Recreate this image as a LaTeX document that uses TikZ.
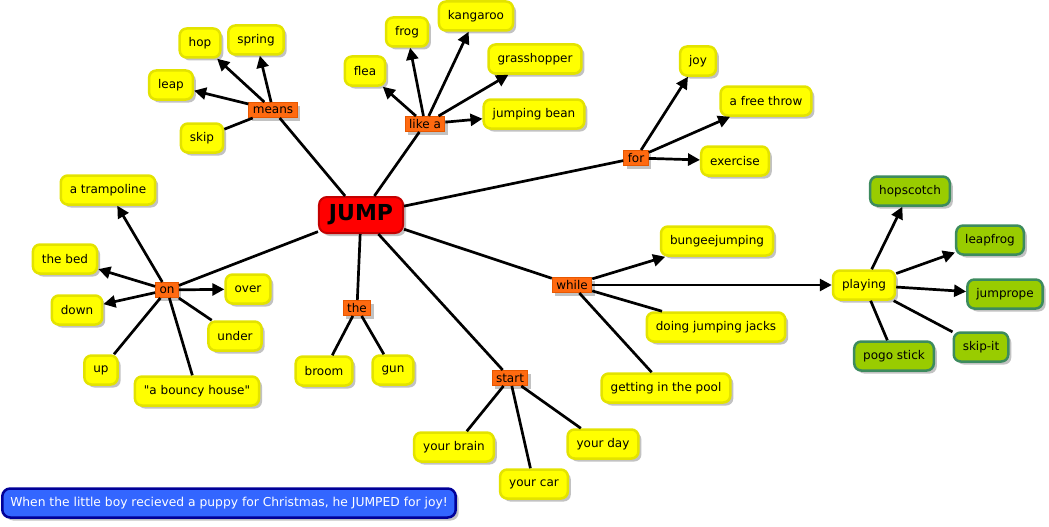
\documentclass[tikz,border=0pt]{standalone}
\usepackage{fontspec}
\setmainfont{DejaVu Sans}[Ligatures=TeXOff]
\usetikzlibrary{arrows.meta,shadows}

\definecolor{conceptfill}{HTML}{FFFF00}
\definecolor{conceptedge}{HTML}{E3E300}
\definecolor{linkfill}{HTML}{FF6A10}
\definecolor{linkedge}{HTML}{E85800}
\definecolor{gamefill}{HTML}{99CC00}
\definecolor{gameedge}{HTML}{3D8B5E}
\definecolor{rootfill}{HTML}{FF0000}
\definecolor{rootedge}{HTML}{C40000}
\definecolor{notefill}{HTML}{3366FF}
\definecolor{noteedge}{HTML}{000099}

\begin{document}
\begin{tikzpicture}[
    x=1pt, y=-1pt,
    % 阴影样式
    boxshadow/.style={drop shadow={shadow xshift=3pt, shadow yshift=-3pt, fill=black!40, opacity=0.6}},
    % 黄色概念框
    concept/.style={draw=conceptedge, fill=conceptfill, line width=2.5pt, rounded corners=7pt,
        minimum height=29pt, inner xsep=9pt, font=\fontsize{12}{14}\selectfont, boxshadow},
    % 绿色概念框（游戏）
    game/.style={concept, draw=gameedge, fill=gamefill},
    % 橙色连接词
    linkword/.style={draw=linkedge, fill=linkfill, line width=1pt, inner xsep=4pt, inner ysep=2pt,
        minimum height=15pt, font=\fontsize{12}{14}\selectfont, boxshadow},
    % 中心词
    root/.style={draw=rootedge, fill=rootfill, line width=2pt, rounded corners=8pt,
        minimum height=36pt, inner xsep=10pt, font=\fontsize{22}{24}\selectfont\bfseries, boxshadow},
    % 底部例句
    note/.style={draw=noteedge, fill=notefill, text=white, line width=2.5pt, rounded corners=8pt,
        minimum height=29pt, inner xsep=8pt, font=\fontsize{12.3}{14}\selectfont, boxshadow},
    % 连线（无箭头 / 有箭头）
    plainline/.style={line width=2.7pt},
    arrowline/.style={plainline, -{Triangle[length=12pt, width=12pt]}}
]

    % 0. 画布大小
    \useasboundingbox (0,0) rectangle (1049,527);

    % 1. 中心词
    \node[root] (jump) at (361,215) {JUMP};

    % 2. means
    \node[linkword] (means) at (273,110) {means};
    \node[concept] (hop) at (200,43) {hop};
    \node[concept] (spring) at (256,40) {spring};
    \node[concept] (leap) at (171,85) {leap};
    \node[concept] (skip) at (202,138) {skip};

    % 3. like a
    \node[linkword] (likea) at (425,124) {like a};
    \node[concept] (flea) at (365,71) {flea};
    \node[concept] (frog) at (407,32) {frog};
    \node[concept] (kangaroo) at (476,16) {kangaroo};
    \node[concept] (grasshopper) at (535,59) {grasshopper};
    \node[concept] (bean) at (534,114) {jumping bean};

    % 4. for
    \node[linkword] (for) at (636,158) {for};
    \node[concept] (joy) at (698,61) {joy};
    \node[concept] (throw) at (766,101) {a free throw};
    \node[concept] (exercise) at (735,161) {exercise};

    % 5. on
    \node[linkword] (on) at (167,290) {on};
    \node[concept] (trampoline) at (108,190) {a trampoline};
    \node[concept] (bed) at (65,259) {the bed};
    \node[concept] (down) at (77,310) {down};
    \node[concept] (up) at (101,370) {up};
    \node[concept] (bouncy) at (197,391) {"a bouncy house"};
    \node[concept] (under) at (235,336) {under};
    \node[concept] (over) at (248,289) {over};

    % 6. the
    \node[linkword] (the) at (357,308) {the};
    \node[concept] (broom) at (324,371) {broom};
    \node[concept] (gun) at (393,370) {gun};

    % 7. start
    \node[linkword] (start) at (510,378) {start};
    \node[concept] (brain) at (454,447) {your brain};
    \node[concept] (car) at (534,484) {your car};
    \node[concept] (day) at (603,444) {your day};

    % 8. while
    \node[linkword] (while) at (572,285) {while};
    \node[concept] (bungee) at (717,241) {bungeejumping};
    \node[concept] (jacks) at (716,327) {doing jumping jacks};
    \node[concept] (pool) at (666,388) {getting in the pool};
    \node[concept] (playing) at (864,285) {playing};

    % 9. 游戏
    \node[game] (hopscotch) at (910,191) {hopscotch};
    \node[game] (leapfrog) at (990,240) {leapfrog};
    \node[game] (jumprope) at (1005,294) {jumprope};
    \node[game] (skipit) at (981,347) {skip-it};
    \node[game] (pogo) at (894,356) {pogo stick};

    % 10. 例句
    \node[note] (sentence) at (229,503) {When the little boy recieved a puppy for Christmas, he JUMPED for joy!};

    % 11. 连线
    \draw[plainline] (jump) -- (means);
    \draw[plainline] (jump) -- (likea);
    \draw[plainline] (jump) -- (for);
    \draw[plainline] (jump) -- (on);
    \draw[plainline] (jump) -- (the);
    \draw[plainline] (jump) -- (start);
    \draw[plainline] (jump) -- (while);

    \draw[arrowline] (means) -- (hop);
    \draw[arrowline] (means) -- (spring);
    \draw[arrowline] (means) -- (leap);
    \draw[plainline] (means) -- (skip);

    \draw[arrowline] (likea) -- (flea);
    \draw[arrowline] (likea) -- (frog);
    \draw[arrowline] (likea) -- (kangaroo);
    \draw[arrowline] (likea) -- (grasshopper);
    \draw[arrowline] (likea) -- (bean);

    \draw[arrowline] (for) -- (joy);
    \draw[arrowline] (for) -- (throw);
    \draw[arrowline] (for) -- (exercise);

    \draw[arrowline] (on) -- (trampoline);
    \draw[arrowline] (on) -- (bed);
    \draw[arrowline] (on) -- (down);
    \draw[arrowline] (on) -- (over);
    \draw[plainline] (on) -- (up);
    \draw[plainline] (on) -- (bouncy);
    \draw[plainline] (on) -- (under);

    \draw[plainline] (the) -- (broom);
    \draw[plainline] (the) -- (gun);

    \draw[plainline] (start) -- (brain);
    \draw[plainline] (start) -- (car);
    \draw[plainline] (start) -- (day);

    \draw[arrowline] (while) -- (bungee);
    \draw[plainline] (while) -- (jacks);
    \draw[plainline] (while) -- (pool);
    \draw[arrowline] (while) -- (playing);

    \draw[arrowline] (playing) -- (hopscotch);
    \draw[arrowline] (playing) -- (leapfrog);
    \draw[arrowline] (playing) -- (jumprope);
    \draw[plainline] (playing) -- (skipit);
    \draw[plainline] (playing) -- (pogo);

\end{tikzpicture}
\end{document}
